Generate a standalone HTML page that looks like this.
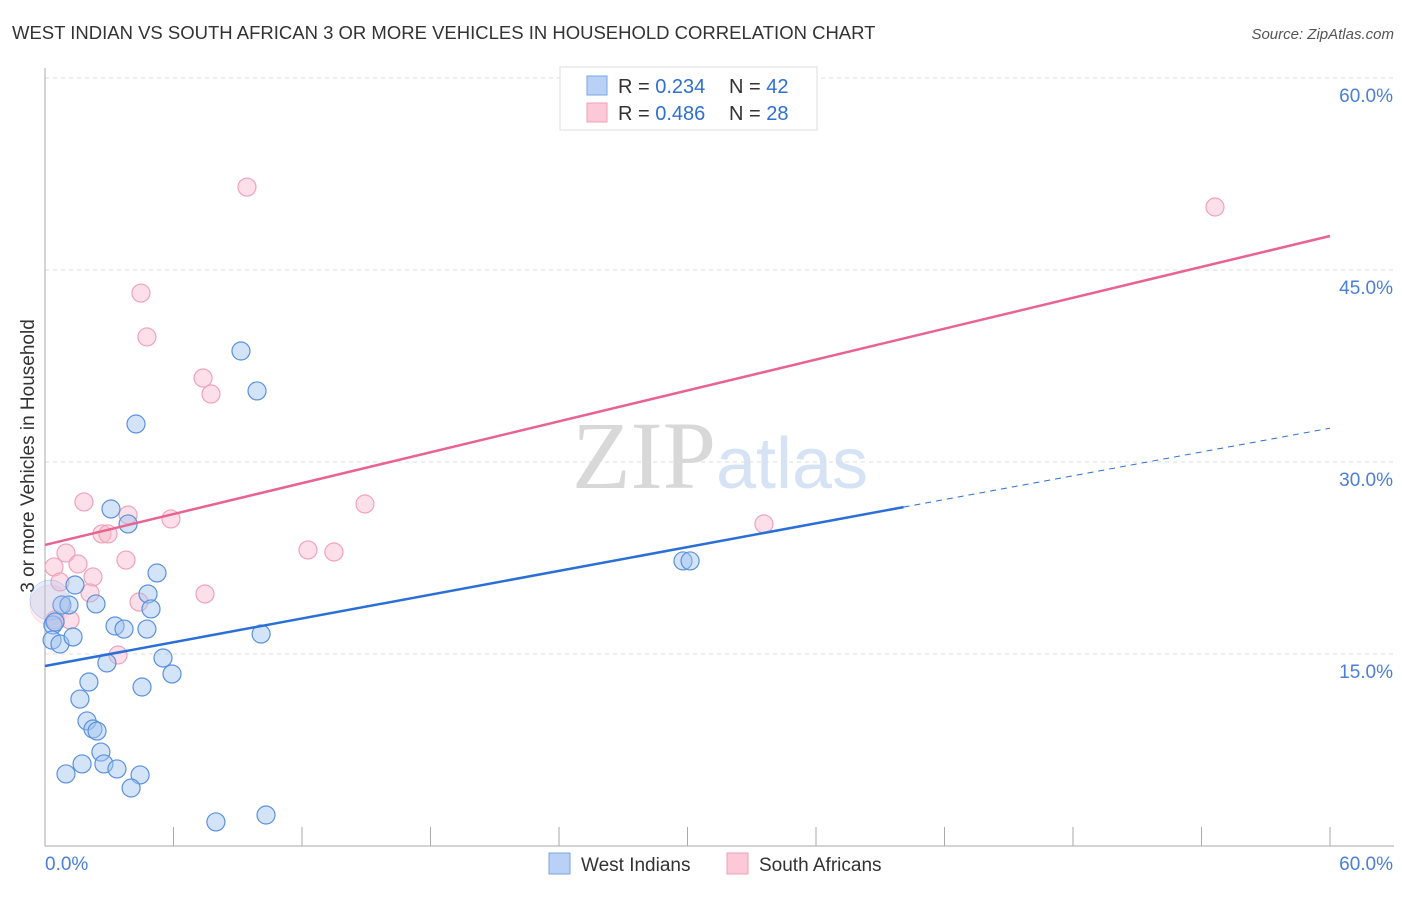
<!DOCTYPE html>
<html><head><meta charset="utf-8"><style>
body{margin:0;background:#fff;font-family:"Liberation Sans",sans-serif}
svg text{font-family:"Liberation Sans",sans-serif}
</style></head><body>
<svg id="c" width="1406" height="892">
<text x="12" y="39" font-size="18.5" fill="#333">WEST INDIAN VS SOUTH AFRICAN 3 OR MORE VEHICLES IN HOUSEHOLD CORRELATION CHART</text>
<text x="1394" y="39" font-size="15" fill="#555" font-style="italic" text-anchor="end">Source: ZipAtlas.com</text>
<text x="34" y="456" font-size="19" fill="#333" text-anchor="middle" transform="rotate(-90 34 456)">3 or more Vehicles in Household</text>
<text x="720" y="488" font-size="96" fill="#e2e2e2" text-anchor="middle" font-family="Liberation Serif"><tspan fill="#d8d8d8" font-family="Liberation Serif">ZIP</tspan><tspan fill="#d6e3f5" font-size="72" font-family="Liberation Sans">atlas</tspan></text>
<g id="grid"></g><g id="marks"></g><g id="lines"></g>
<g>
<rect x="560" y="67" width="257" height="63" fill="#fff" stroke="#ddd"/>
<rect x="587" y="76" width="20" height="19" fill="#b8d1f5" stroke="#7aa6e6"/>
<rect x="587" y="103" width="20" height="19" fill="#fbc9d7" stroke="#f0a0b8"/>
<text x="618" y="93" font-size="20" fill="#333">R = <tspan fill="#2f6fd1">0.234</tspan><tspan x="729">N = </tspan><tspan fill="#2f6fd1">42</tspan></text>
<text x="618" y="120" font-size="20" fill="#333">R = <tspan fill="#2f6fd1">0.486</tspan><tspan x="729">N = </tspan><tspan fill="#2f6fd1">28</tspan></text>
</g>
<g>
<rect x="549" y="853" width="21" height="21" fill="#b8d1f5" stroke="#7aa6e6"/>
<text x="581" y="871" font-size="19" fill="#333">West Indians</text>
<rect x="727" y="853" width="21" height="21" fill="#fbc9d7" stroke="#f0a0b8"/>
<text x="759" y="871" font-size="19" fill="#333">South Africans</text>
</g>
</svg>
<script>
const yTicks=[15,30,45,60];
const yTickLabels=["15.0%","30.0%","45.0%","60.0%"];
const xTickLabels=["0.0%","60.0%"];
const blueX=[9.15,9.9,4.25,3.08,3.88,5.23,4.81,4.95,1.4,0.79,1.12,2.38,0.37,0.33,0.7,1.31,3.27,3.69,4.76,10.09,2.89,5.51,5.93,4.53,2.05,1.63,1.96,2.24,2.43,2.61,2.75,3.36,1.73,0.98,4.44,4.02,7.98,10.32,29.79,30.12,0.23,0.47];
const blueY=[38.67,35.55,32.97,26.33,25.16,21.33,19.69,18.52,20.39,18.83,18.83,18.91,17.27,16.09,15.78,16.33,17.19,16.95,16.95,16.56,14.3,14.69,13.44,12.42,12.81,11.48,9.77,9.14,8.98,7.34,6.41,6.02,6.41,5.63,5.55,4.53,1.88,2.42,22.27,22.27,19.22,17.5];
const blueBig=[40];
const pinkX=[9.43,4.48,4.76,7.38,7.75,54.63,1.82,3.88,5.88,14.94,2.66,2.94,0.98,3.78,0.42,1.54,2.24,0.7,2.1,7.47,4.39,1.17,12.28,13.49,33.57,3.41,0.23,0.47];
const pinkY=[51.48,43.2,39.77,36.56,35.31,49.92,26.88,25.86,25.55,26.72,24.38,24.38,22.89,22.34,21.8,22.03,21.02,20.63,19.77,19.69,19.06,17.66,23.13,22.97,25.16,14.92,18.83,17.66];
const pinkBig=[26];
const blueFit=[14.06,0.3097];
const pinkFit=[23.52,0.4023];
const blueSolidEnd=40.09;
const NS="http://www.w3.org/2000/svg";
const X=v=>45+v/60*1285, Y=v=>846-v/60*768;
function mk(t,a,p){const e=document.createElementNS(NS,t);for(const k in a)e.setAttribute(k,a[k]);p.appendChild(e);return e;}
const grid=document.getElementById('grid'),marks=document.getElementById('marks'),lines=document.getElementById('lines');
yTicks.forEach((t,i)=>{
 const l=mk('line',{x1:45,x2:1394,y1:Y(t),y2:Y(t),stroke:'#ddd','stroke-dasharray':'4 4'},grid);
 
 
 const tx=mk('text',{x:1393,y:Y(t)+24,'font-size':19,fill:'#4a7fd6','text-anchor':'end'},grid);
 tx.textContent=yTickLabels[i];
 
 
});
mk('line',{x1:45,x2:45,y1:68,y2:846,stroke:'#aaa'},grid);
mk('line',{x1:45,x2:1394,y1:846,y2:846,stroke:'#aaa'},grid);
for(let i=1;i<=10;i++){mk('line',{x1:X(i*6),x2:X(i*6),y1:827,y2:846,stroke:'#aaa'},grid);}
const xl0=mk('text',{x:45,y:870,'font-size':19,fill:'#4a7fd6'},grid);xl0.textContent=xTickLabels[0];


const xl1=mk('text',{x:1393,y:870,'font-size':19,fill:'#4a7fd6','text-anchor':'end'},grid);xl1.textContent=xTickLabels[1];


function pts(xs,ys,big,fill,stroke,name){
 xs.forEach((x,i)=>{const b=big.includes(i);const c=mk('circle',{cx:X(x),cy:Y(ys[i]),r:b?20:9,fill:fill,stroke:stroke,'stroke-width':b?0.5:1.2,opacity:b?0.6:1},marks);
 
 });
}
pts(pinkX,pinkY,pinkBig,'rgba(248,185,205,0.45)','#f0a3bb','south-african-point');
pts(blueX,blueY,blueBig,'rgba(160,195,240,0.45)','#5a91df','west-indian-point');
const pl=mk('line',{x1:X(0),y1:Y(pinkFit[0]),x2:X(60),y2:Y(pinkFit[0]+pinkFit[1]*60),stroke:'#e8638f','stroke-width':2.5},lines);


const bl=mk('line',{x1:X(0),y1:Y(blueFit[0]),x2:X(blueSolidEnd),y2:Y(blueFit[0]+blueFit[1]*blueSolidEnd),stroke:'#2a6fd6','stroke-width':2.5},lines);


const bd=mk('line',{x1:X(blueSolidEnd),y1:Y(blueFit[0]+blueFit[1]*blueSolidEnd),x2:X(60),y2:Y(blueFit[0]+blueFit[1]*60),stroke:'#2a6fd6','stroke-width':1,'stroke-dasharray':'6 5'},lines);


</script>
</body></html>
